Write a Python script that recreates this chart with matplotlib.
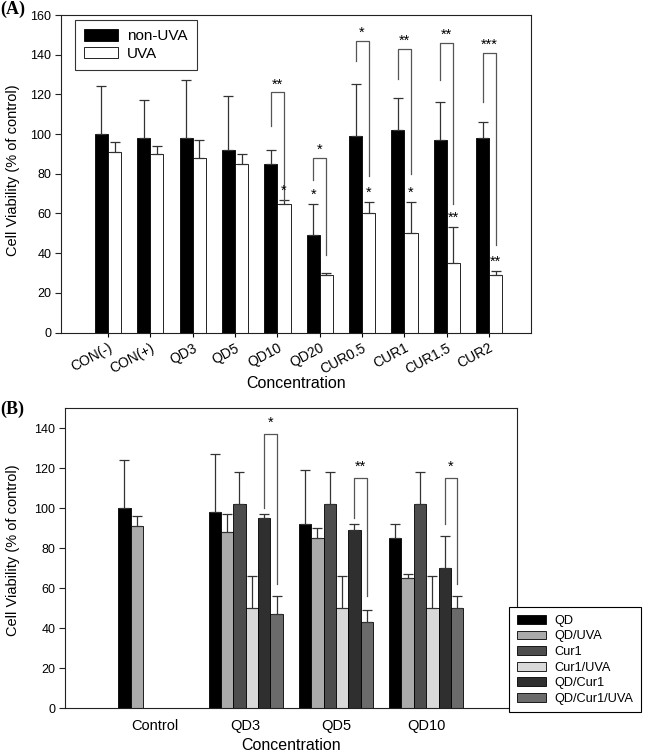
import numpy as np
import matplotlib.pyplot as plt
from matplotlib.transforms import ScaledTranslation

plt.rcParams['font.family'] = ['Liberation Sans', 'DejaVu Sans']

# -----------------------------
# Panel A data
# -----------------------------
conc_a = ['CON(-)', 'CON(+)', 'QD3', 'QD5', 'QD10', 'QD20',
          'CUR0.5', 'CUR1', 'CUR1.5', 'CUR2']
nonuva_mean = [100, 98, 98, 92, 85, 49, 99, 102, 97, 98]
nonuva_sd = [24, 19, 29, 27, 7, 16, 26, 16, 19, 8]
uva_mean = [91, 90, 88, 85, 65, 29, 60, 50, 35, 29]
uva_sd = [5, 4, 9, 5, 2, 1, 6, 16, 18, 2]

# brackets non-UVA vs UVA: category, left leg start, top, right leg end, label
brk_a_idx = [4, 5, 6, 7, 8, 9]
brk_a_left = [104, 77, 137, 128, 127, 116]
brk_a_top = [121, 88, 147, 143, 146, 141]
brk_a_right = [67, 39, 79, 80, 65, 44]
brk_a_lbl = ['**', '*', '*', '**', '**', '***']

# stars on single bars (vs control)
star_a_idx = [4, 5, 6, 7, 8, 9]
star_a_uva = [True, False, True, True, True, True]
star_a_lbl = ['*', '*', '*', '*', '**', '**']

# -----------------------------
# Panel B data
# -----------------------------
conc_b = ['Control', 'QD3', 'QD5', 'QD10']
series_b = ['QD', 'QD/UVA', 'Cur1', 'Cur1/UVA', 'QD/Cur1', 'QD/Cur1/UVA']
colors_b = ['#000000', '#aaaaaa', '#4d4d4d', '#d9d9d9', '#2f2f2f', '#6b6b6b']
mean_b = [
    [100, 98, 92, 85],
    [91, 88, 85, 65],
    [np.nan, 102, 102, 102],
    [np.nan, 50, 50, 50],
    [np.nan, 95, 89, 70],
    [np.nan, 47, 43, 50],
]
sd_b = [
    [24, 29, 27, 7],
    [5, 9, 5, 2],
    [np.nan, 16, 16, 16],
    [np.nan, 16, 16, 16],
    [np.nan, 2, 3, 16],
    [np.nan, 9, 6, 6],
]
# brackets QD/Cur1 vs QD/Cur1/UVA
brk_b_idx = [1, 2, 3]
brk_b_left = [100, 95, 92]
brk_b_top = [137, 115, 115]
brk_b_right = [62, 56, 62]
brk_b_lbl = ['*', '**', '*']

fig = plt.figure(figsize=(6.45, 7.54), dpi=100)
ax1 = fig.add_axes([0.0946, 0.559, 0.7287, 0.4211])
ax2 = fig.add_axes([0.1008, 0.0606, 0.700, 0.3979])

err_kw = dict(fmt='none', ecolor='#333333', elinewidth=0.9, capsize=3.5, capthick=0.9)
brk_color = '#555555'


def style_axes(ax):
    for s in ax.spines.values():
        s.set_linewidth(0.8)
        s.set_color('#222222')
    ax.tick_params(axis='y', direction='out', length=4, width=0.8, pad=3,
                   labelsize=9, color='#222222')


# -----------------------------
# Panel A
# -----------------------------
x = np.arange(len(conc_a))
w = 0.31
ax1.bar(x - w / 2, nonuva_mean, w, color='black', edgecolor='black', lw=0.6,
        label='non-UVA', zorder=2)
ax1.bar(x + w / 2, uva_mean, w, color='white', edgecolor='black', lw=0.6,
        label='UVA', zorder=2)
ax1.errorbar(x - w / 2, nonuva_mean, yerr=[np.zeros(len(x)), nonuva_sd], zorder=3, **err_kw)
ax1.errorbar(x + w / 2, uva_mean, yerr=[np.zeros(len(x)), uva_sd], zorder=3, **err_kw)

for i, yl, yt, yr, lbl in zip(brk_a_idx, brk_a_left, brk_a_top, brk_a_right, brk_a_lbl):
    xl, xr = i - w / 2, i + w / 2
    ax1.plot([xl, xl, xr, xr], [yl, yt, yt, yr], color=brk_color, lw=0.9, zorder=3)
    ax1.annotate(lbl, (i, yt), xytext=(0, 0.5), textcoords='offset points',
                 ha='center', va='bottom', fontsize=10.5)

for i, on_uva, lbl in zip(star_a_idx, star_a_uva, star_a_lbl):
    if on_uva:
        xs, ytop = i + w / 2, uva_mean[i] + uva_sd[i]
    else:
        xs, ytop = i - w / 2, nonuva_mean[i] + nonuva_sd[i]
    ax1.annotate(lbl, (xs, ytop), xytext=(0, 1.5), textcoords='offset points',
                 ha='center', va='bottom', fontsize=10.5)

ax1.set_xlim(-1.11, 9.99)
ax1.set_ylim(0, 160)
ax1.set_yticks(np.arange(0, 161, 20))
ax1.set_xticks(x)
ax1.set_xticklabels(conc_a, rotation=28, ha='right', va='top', rotation_mode='anchor',
                    fontsize=10)
off = ScaledTranslation(5 / 72, 0, fig.dpi_scale_trans)
for t in ax1.get_xticklabels():
    t.set_transform(t.get_transform() + off)
ax1.tick_params(axis='x', direction='out', length=3, width=0.8, pad=3)
style_axes(ax1)
ax1.set_xlabel('Concentration', fontsize=11.5, va='top')
ax1.xaxis.set_label_coords(0.5, -0.137)
ax1.set_ylabel('Cell Viability (% of control)', fontsize=10.5)
ax1.yaxis.set_label_coords(-0.087, 0.51)

leg1 = ax1.legend(loc='upper left', bbox_to_anchor=(0.03, 0.984), borderaxespad=0,
                  fancybox=False, edgecolor='black', fontsize=11, handlelength=2.2,
                  handleheight=0.75, handletextpad=0.6, borderpad=0.6, labelspacing=0.25)
leg1.get_frame().set_linewidth(0.8)

fig.text(0.0, 0.987, '(A)', family=['Liberation Serif', 'DejaVu Serif'],
         fontweight='bold', fontsize=13, ha='left', va='center')

# -----------------------------
# Panel B
# -----------------------------
xb = np.arange(len(conc_b))
wb = 0.137
nser = len(series_b)
for k in range(nser):
    pos = xb + (k - (nser - 1) / 2) * wb
    ax2.bar(pos, mean_b[k], wb, color=colors_b[k], edgecolor='black', lw=0.6,
            label=series_b[k], zorder=2)
    ax2.errorbar(pos, mean_b[k], yerr=[np.zeros(len(xb)), sd_b[k]], zorder=3, **err_kw)

for i, yl, yt, yr, lbl in zip(brk_b_idx, brk_b_left, brk_b_top, brk_b_right, brk_b_lbl):
    xl = i + (4 - (nser - 1) / 2) * wb
    xr = i + (5 - (nser - 1) / 2) * wb
    ax2.plot([xl, xl, xr, xr], [yl, yt, yt, yr], color=brk_color, lw=0.9, zorder=3)
    ax2.annotate(lbl, ((xl + xr) / 2, yt), xytext=(0, 3), textcoords='offset points',
                 ha='center', va='bottom', fontsize=10.5)

ax2.set_xlim(-1.0, 4.0)
ax2.set_ylim(0, 150)
ax2.set_yticks(np.arange(0, 141, 20))
ax2.set_xticks(xb)
ax2.set_xticklabels(conc_b, fontsize=10.5)
ax2.tick_params(axis='x', length=0, pad=8)
style_axes(ax2)
ax2.set_xlabel('Concentration', fontsize=11.5, va='top')
ax2.xaxis.set_label_coords(0.5, -0.1)
ax2.set_ylabel('Cell Viability (% of control)', fontsize=10.5)
ax2.yaxis.set_label_coords(-0.1, 0.528)

leg2 = ax2.legend(loc='upper left', bbox_to_anchor=(0.984, 0.337), borderaxespad=0,
                  fancybox=False, edgecolor='black', fontsize=9.2, handlelength=2.3,
                  handleheight=0.7, handletextpad=0.6, borderpad=0.6, labelspacing=0.28,
                  framealpha=1)
leg2.get_frame().set_linewidth(0.8)
leg2.set_zorder(5)

fig.text(0.0, 0.4575, '(B)', family=['Liberation Serif', 'DejaVu Serif'],
         fontweight='bold', fontsize=13, ha='left', va='center')

fig.savefig('out.png', dpi=100)
